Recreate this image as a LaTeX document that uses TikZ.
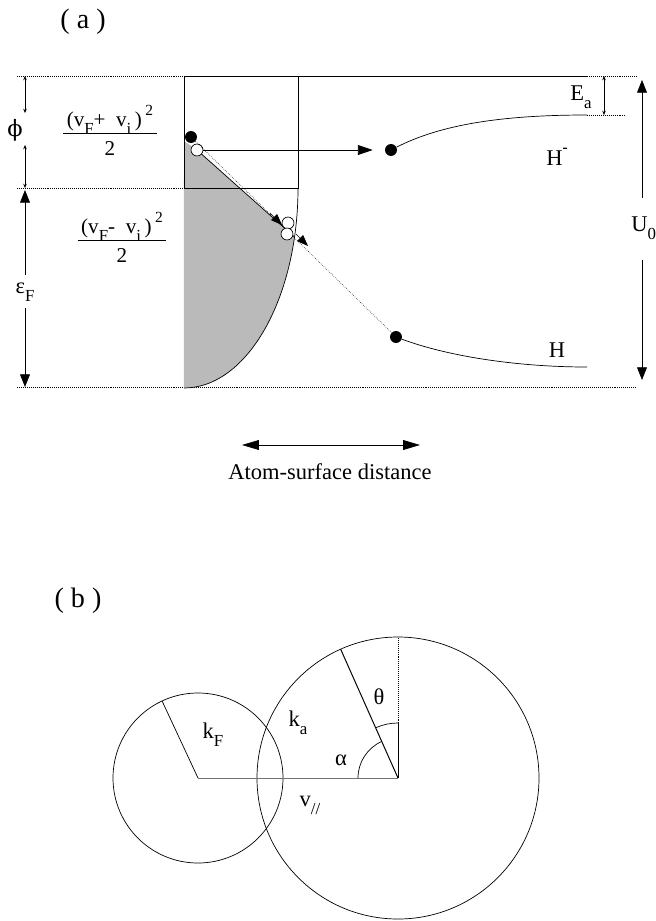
\documentclass[tikz,border=0pt]{standalone}
\usepackage{fontspec}
\setmainfont{Liberation Serif}
\newfontfamily\symfont{DejaVu Serif}
\usetikzlibrary{arrows.meta}

\newcommand{\dn}[1]{\raisebox{-0.35em}{\fontsize{12}{12}\selectfont #1}}
\newcommand{\up}[1]{\raisebox{0.55em}{\fontsize{11}{11}\selectfont #1}}

\tikzset{
  lab/.style={font=\fontsize{16}{18}\selectfont, inner sep=0pt},
  levl/.style={densely dotted, line width=0.4pt},
  bigtip/.style={-{Triangle[length=9pt,width=7pt]}},
  smalltips/.style={{Stealth[length=3pt,width=2.5pt]}-{Stealth[length=3pt,width=2.5pt]}, line width=0.4pt},
  electron/.style={circle, fill=black, inner sep=0pt, minimum size=8.5pt},
  hole/.style={circle, draw, fill=white, inner sep=0pt, minimum size=8.5pt, line width=0.5pt}
}

\begin{document}
\begin{tikzpicture}[x=0.025cm, y=-0.025cm, line width=0.5pt]
  \useasboundingbox (0,0) rectangle (656,921);

  % ---------- (a) ----------
  \node[font=\fontsize{20}{22}\selectfont] (pa) at (83,22) {( a )};

  % energy levels
  \draw[levl] (17,76) -- (184,76);
  \draw (184,76) -- (587,76);
  \draw[levl] (587,76) -- (637,76);
  \draw[levl] (17,188) -- (184,188);
  \draw[levl] (587,115) -- (625,115);
  \draw[levl] (17,387) -- (637,387);

  % occupied states of the metal
  \fill[black!27] (184,141) -- (197,150) -- (294.5,237)
     arc[start angle=14.2, end angle=90, x radius=114, y radius=200] -- cycle;
  \draw (184,76) rectangle (298,188);
  \draw (298,188) arc[start angle=0, end angle=90, x radius=114, y radius=200];
  \coordinate (edge) at (294.5,237);

  \node[electron] (e1) at (191,137) {};
  \node[hole] (h1) at (197,150) {};
  \node[electron] (hm) at (391,150) {};
  \node[electron] (h0) at (396,337) {};

  \draw (h1) -- (edge);
  \draw[levl] (e1) -- (h0);
  \draw[-{Triangle[length=8pt,width=6pt]}] (270,213) -- (282,225);
  \draw[-{Triangle[length=8pt,width=6pt]}] (296,234) -- (308,246);
  \node[hole] (h2) at (288,223) {};
  \node[hole] (h3) at (287,234) {};

  \draw[-{Triangle[length=10.5pt,width=7pt]}, shorten >=8.5pt] (h1) -- (hm);

  % H- and H levels
  \draw (hm) .. controls (440,125) and (500,115) .. (587,115);
  \draw (h0) .. controls (450,357) and (520,367) .. (587,367);
  \node[lab] (hmlab) at (557,157) {H\up{\textbf{-}}};
  \node[lab] (hlab) at (557,350) {H};

  % phi
  \node[lab] (phi) at (15,130) {\symfont ϕ};
  \coordinate (phitop) at (25,76);
  \coordinate (phibot) at (25,188);
  \draw[smalltips] (25,113) -- (phitop);
  \draw[smalltips] (25,145) -- (phibot);

  % eps_F
  \node[lab] (epsF) at (25,292) {ε\dn{F}};
  \coordinate (eftop) at (25,190);
  \coordinate (efbot) at (25,387);
  \draw[bigtip] (25,275) -- (eftop);
  \draw[bigtip] (25,308) -- (efbot);

  % E_a
  \node[lab] (ea) at (581,97) {E\dn{a}};
  \coordinate (eatop) at (604,76);
  \coordinate (eabot) at (604,115);
  \draw[smalltips] (eatop) -- (eabot);

  % U_0
  \node[lab, anchor=west] (u0) at (631,228) {U\dn{0}};
  \coordinate (u0top) at (642,80);
  \coordinate (u0bot) at (642,380);
  \draw[bigtip] (642,198) -- (u0top);
  \draw[bigtip] (642,260) -- (u0bot);

  % kinetic energy labels
  \node[lab, font=\fontsize{15}{17}\selectfont] (fplus) at (110,134) {\begin{tabular}{@{\,}c@{\,}}(v\dn{F}+\ \ v\dn{i}\,)\,\up{2}\\[-1pt]\hline\rule{0pt}{16pt}2\end{tabular}};
  \node[lab, font=\fontsize{15}{17}\selectfont] (fminus) at (122,241) {\begin{tabular}{@{\,}c@{\,}}(v\dn{F}-\ \ v\dn{i}\,)\,\up{2}\\[-1pt]\hline\rule{0pt}{16pt}2\end{tabular}};

  % distance axis
  \coordinate (as1) at (242,445);
  \coordinate (as2) at (420,445);
  \draw[{Triangle[length=12pt,width=7pt]}-{Triangle[length=12pt,width=7pt]}] (as1) -- (as2);
  \node[font=\fontsize{16}{18}\selectfont] (astext) at (330,472) {Atom-surface distance};

  % ---------- (b) ----------
  \node[font=\fontsize{20}{22}\selectfont] (pb) at (78,601) {( b )};
  \coordinate (cF) at (198,778);
  \coordinate (cA) at (398,778);
  \draw (cF) circle[radius=85];
  \draw (cA) circle[radius=141];
  \draw[black!55, line width=0.6pt] (cF) -- (cA);
  \draw (cF) -- ++(-115:85) coordinate (kF);
  \draw[line width=0.7pt] (cA) -- ++(-114:141) coordinate (ka);
  \draw (cA) -- ++(0,-55) coordinate (tq);
  \draw[levl] (tq) -- ++(0,-86);
  \draw (tq) arc[start angle=-90, end angle=-114, radius=55];
  \draw (cA) ++(-180:40) arc[start angle=-180, end angle=-114, radius=40];

  \node[lab] (theta) at (379,697) {θ};
  \node[lab] (alpha) at (341,760) {α};
  \node[lab] (kalab) at (298,723) {k\dn{a}};
  \node[lab] (kflab) at (213,735) {k\dn{F}};
  \node[lab] (vpar) at (310,805) {v\dn{//}};
\end{tikzpicture}
\end{document}
